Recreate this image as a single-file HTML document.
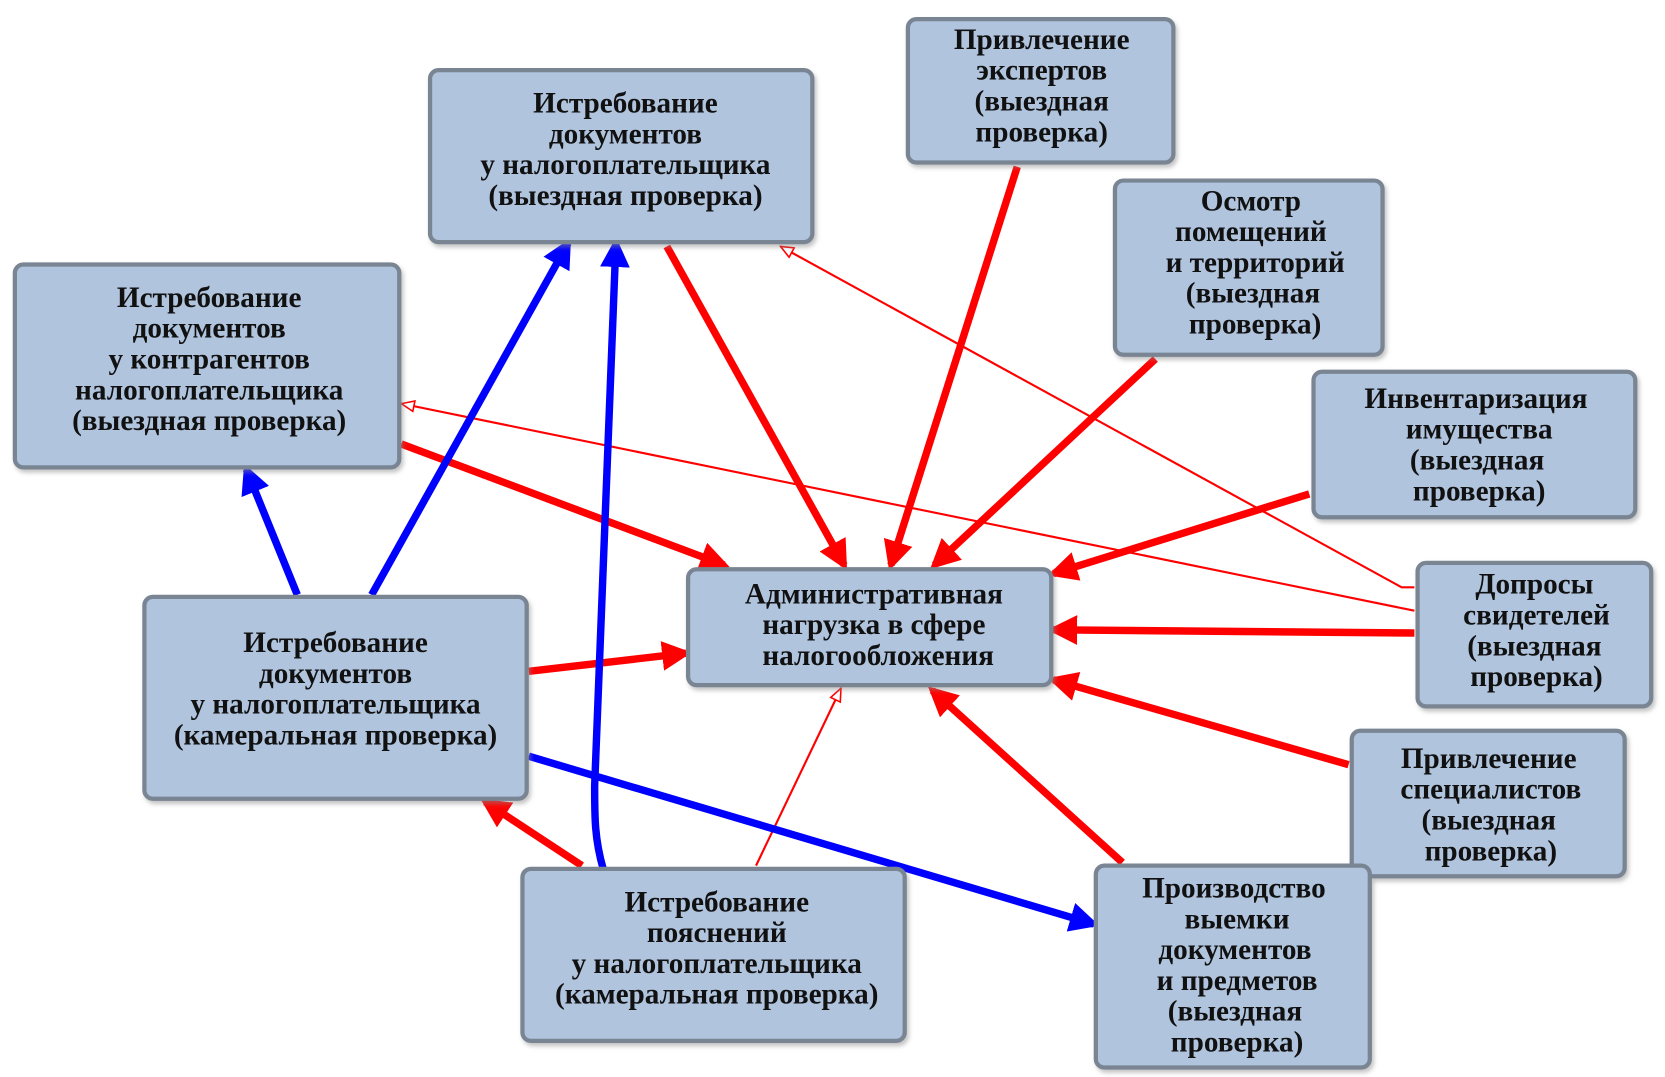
<!DOCTYPE html>
<html><head><meta charset="utf-8"><style>
html,body{margin:0;padding:0;background:#fff;}
svg{display:block;}
text{font-family:"Liberation Serif",serif;font-weight:bold;font-size:27.5px;fill:#111;}
</style></head><body>
<svg width="1665" height="1077" viewBox="0 0 1568 1014" preserveAspectRatio="none" xmlns="http://www.w3.org/2000/svg">
<defs>
<marker id="ar" markerUnits="strokeWidth" markerWidth="4" markerHeight="4" refX="3.2" refY="2" orient="auto"><path d="M0,0 L4,2 L0,4 z" fill="#ff0000"/></marker>
<marker id="ab" markerUnits="strokeWidth" markerWidth="4" markerHeight="4" refX="3.2" refY="2" orient="auto"><path d="M0,0 L4,2 L0,4 z" fill="#0000ff"/></marker>
<marker id="at" markerUnits="userSpaceOnUse" markerWidth="14" markerHeight="12" refX="13" refY="6" orient="auto"><path d="M1,1 L13,6 L1,11 z" fill="#fff" stroke="#ff0000" stroke-width="1.5"/></marker>
<filter id="sh" x="-5%" y="-5%" width="115%" height="120%"><feDropShadow dx="2" dy="3" stdDeviation="2" flood-color="#888" flood-opacity="0.5"/></filter>
</defs>
<g fill="none" stroke-linecap="butt">
<line x1="712" y1="815" x2="792" y2="648" stroke="#ff0000" stroke-width="2" marker-end="url(#at)"/>
<line x1="1332" y1="575" x2="378" y2="380" stroke="#ff0000" stroke-width="2" marker-end="url(#at)"/>
<polyline points="1332,553 1320,553 735,232" stroke="#ff0000" stroke-width="2" marker-end="url(#at)"/>
<g stroke="#ff0000" stroke-width="7" marker-end="url(#ar)">
<line x1="628" y1="232" x2="795" y2="532"/>
<line x1="958" y1="157" x2="839" y2="532"/>
<line x1="1088" y1="338" x2="880" y2="532"/>
<line x1="1233" y1="465" x2="992" y2="540"/>
<line x1="1332" y1="596" x2="992" y2="593"/>
<line x1="1270" y1="720" x2="992" y2="640"/>
<line x1="1057" y1="812" x2="878" y2="650"/>
<line x1="498" y1="632" x2="646" y2="615"/>
<line x1="378" y1="418" x2="682" y2="532"/>
<line x1="548" y1="815" x2="457" y2="755"/>
</g>
<g stroke="#0000ff" stroke-width="7" marker-end="url(#ab)">
<line x1="280" y1="560" x2="232" y2="442"/>
<line x1="350" y1="560" x2="535" y2="229"/>
<path d="M568,818 C560,790 560,770 560,740 L580,229"/>
<line x1="498" y1="712" x2="1030" y2="870"/>
</g>
</g>
<g fill="#b0c4de" stroke="#7a8593" stroke-width="4" filter="url(#sh)">
<rect x="405" y="66" width="360" height="162" rx="8"/>
<rect x="855" y="18" width="250" height="135" rx="8"/>
<rect x="1050" y="170" width="252" height="164" rx="8"/>
<rect x="1237" y="350" width="303" height="137" rx="8"/>
<rect x="1335" y="530" width="220" height="135" rx="8"/>
<rect x="1273" y="688" width="257" height="137" rx="8"/>
<rect x="1032" y="815" width="258" height="190" rx="8"/>
<rect x="492" y="818" width="360" height="162" rx="8"/>
<rect x="136" y="562" width="360" height="190" rx="8"/>
<rect x="14" y="249" width="362" height="191" rx="8"/>
<rect x="648" y="536" width="342" height="109" rx="8"/>
</g>
<g text-anchor="middle">
<text x="589" y="106">Истребование</text><text x="589" y="135">документов</text><text x="589" y="164">у налогоплательщика</text><text x="589" y="193">(выездная проверка)</text>
<text x="981" y="46">Привлечение</text><text x="981" y="75">экспертов</text><text x="981" y="104">(выездная</text><text x="981" y="133">проверка)</text>
<text x="1178" y="198">Осмотр</text><text x="1178" y="227">помещений</text><text x="1182" y="256">и территорий</text><text x="1180" y="285">(выездная</text><text x="1182" y="314">проверка)</text>
<text x="1390" y="384">Инвентаризация</text><text x="1393" y="413">имущества</text><text x="1391" y="442">(выездная</text><text x="1393" y="471">проверка)</text>
<text x="1445" y="559">Допросы</text><text x="1447" y="588">свидетелей</text><text x="1445" y="617">(выездная</text><text x="1447" y="646">проверка)</text>
<text x="1402" y="723">Привлечение</text><text x="1404" y="752">специалистов</text><text x="1402" y="781">(выездная</text><text x="1404" y="810">проверка)</text>
<text x="1162" y="845">Производство</text><text x="1165" y="874">выемки</text><text x="1163" y="903">документов</text><text x="1165" y="932">и предметов</text><text x="1163" y="961">(выездная</text><text x="1165" y="990">проверка)</text>
<text x="675" y="858">Истребование</text><text x="675" y="887">пояснений</text><text x="675" y="916">у налогоплательщика</text><text x="675" y="945">(камеральная проверка)</text>
<text x="316" y="614">Истребование</text><text x="316" y="643">документов</text><text x="316" y="672">у налогоплательщика</text><text x="316" y="701">(камеральная проверка)</text>
<text x="197" y="289">Истребование</text><text x="197" y="318">документов</text><text x="197" y="347">у контрагентов</text><text x="197" y="376">налогоплательщика</text><text x="197" y="405">(выездная проверка)</text>
<text x="823" y="568">Административная</text><text x="823" y="597">нагрузка в сфере</text><text x="827" y="626">налогообложения</text>
</g>
</svg>
</body></html>
